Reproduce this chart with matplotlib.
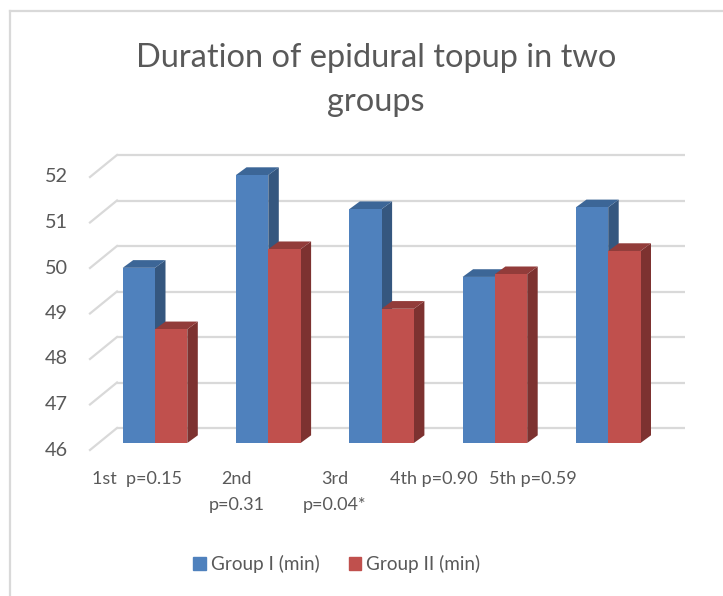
import numpy as np
import matplotlib
matplotlib.use("Agg")
import matplotlib.pyplot as plt
from matplotlib.patches import Polygon

# --- data ---
categories = ["1st  p=0.15", "2nd\np=0.31", "3rd\np=0.04*", "4th p=0.90", "5th p=0.59"]
group1 = [49.85, 51.89, 51.14, 49.65, 51.18]
group2 = [48.50, 50.26, 48.95, 49.71, 50.22]
series_names = ["Group I (min)", "Group II (min)"]
yticks = [46, 47, 48, 49, 50, 51, 52]

# colours (front, side, top)
blue = ("#4f81bd", "#35577f", "#3c6697")
red = ("#c0504d", "#7d3230", "#923c3a")
grid_c = "#d9d9d9"
text_c = "#595959"

FONT = ["Lato", "DejaVu Sans"]
plt.rcParams["font.family"] = FONT

W, H = 723, 596
fig = plt.figure(figsize=(W / 100, H / 100), dpi=100)
renderer = fig.canvas.get_renderer()


def fit_size(s, target_px, base=12):
    # font size that gives the same text width as in the reference
    t = fig.text(0, 0, s, fontsize=base)
    w = t.get_window_extent(renderer).width
    t.remove()
    return base * target_px / w


fs_title = fit_size("Duration of epidural topup in two", 478)
fs_tick = fit_size("52", 23)
fs_cat = fit_size("4th p=0.90", 87)
fs_leg = fit_size("Group I (min)", 108)

# pixel scale of the bar plane
px_cat = 113.3     # px per category
px_val = 45.5      # px per unit
x0_px, y0_px = 155, 443   # pixel of (category 0, value 46)

ax_l, ax_r, ax_t, ax_b = 60, 700, 140, 470
ax = fig.add_axes([ax_l / W, (H - ax_b) / H, (ax_r - ax_l) / W, (ax_b - ax_t) / H])
ax.set_xlim((ax_l - x0_px) / px_cat, (ax_r - x0_px) / px_cat)
ax.set_ylim(46 - (ax_b - y0_px) / px_val, 46 + (y0_px - ax_t) / px_val)
ax.axis("off")


def off(dx_px, dy_px):
    """pixel offset (right, up) -> data offset"""
    return dx_px / px_cat, dy_px / px_val


# back wall and side wall gridlines
back_dx, back_dy = off(-38, 15)
front_dx, front_dy = off(-65, -7)
wall_right = (685 - x0_px) / px_cat
tick_x = (68 - x0_px) / px_cat
for v in yticks:
    ax.plot([back_dx, wall_right], [v + back_dy, v + back_dy], color=grid_c, lw=1.6,
            solid_capstyle="butt", zorder=1, clip_on=False)
    ax.plot([front_dx, back_dx], [v + front_dy, v + back_dy], color=grid_c, lw=1.6,
            zorder=1, clip_on=False)
    ax.text(tick_x, v + front_dy, str(v), ha="right", va="center",
            fontsize=fs_tick, color=text_c)

# bars: front face via ax.bar, side and top faces as polygons
bw = 32.3 / px_cat
ddx, ddy = off(10.5, 7.7)
base = 46
z = 2
for i in range(len(categories)):
    for vals, cols, shift in ((group1, blue, -bw), (group2, red, 0.0)):
        left = i + shift
        right = left + bw
        top = vals[i]
        side = Polygon([(right, base), (right + ddx, base + ddy), (right + ddx, top + ddy), (right, top)],
                       closed=True, facecolor=cols[1], edgecolor="none", zorder=z)
        topf = Polygon([(left, top), (right, top), (right + ddx, top + ddy), (left + ddx, top + ddy)],
                       closed=True, facecolor=cols[2], edgecolor="none", zorder=z)
        ax.add_patch(side)
        ax.add_patch(topf)
        ax.bar(left, top - base, bottom=base, width=bw, align="edge", color=cols[0],
               edgecolor="none", zorder=z + 0.5)
        z += 1

# category labels (Excel puts them on a slightly tighter spacing)
lab_x0 = (137.5 - x0_px) / px_cat
lab_step = 98.75 / px_cat
for i, lab in enumerate(categories):
    ax.text(lab_x0 + i * lab_step, 46 - 28 / px_val, lab, ha="center", va="top",
            fontsize=fs_cat, color=text_c, linespacing=1.75, multialignment="center")

# title
fig.text(376 / W, 1 - 80 / H, "Duration of epidural topup in two\ngroups", ha="center",
         va="center", fontsize=fs_title, color=text_c, linespacing=1.55)

# legend
handles = [plt.Rectangle((0, 0), 1, 1, color=blue[0]), plt.Rectangle((0, 0), 1, 1, color=red[0])]
fig.legend(handles, series_names, loc="center", bbox_to_anchor=(337 / W, 1 - 564 / H),
           ncol=2, frameon=False, fontsize=fs_leg, labelcolor=text_c, handlelength=0.65,
           handleheight=0.65, handletextpad=0.3, columnspacing=1.5)

# chart frame
fig.add_artist(plt.Line2D([10 / W, 10 / W], [0, 1 - 11 / H], color=grid_c, lw=1.6))
fig.add_artist(plt.Line2D([10 / W, 1], [1 - 11 / H, 1 - 11 / H], color=grid_c, lw=1.6))

fig.savefig("out.png", dpi=100, facecolor="white")
